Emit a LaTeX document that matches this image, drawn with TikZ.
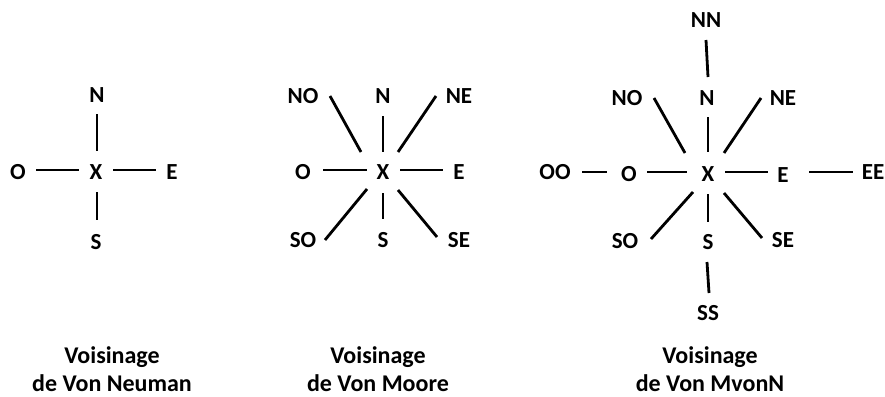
\documentclass[tikz,border=0pt]{standalone}
\usepackage{fontspec}
\setmainfont{Carlito}
\begin{document}
\begin{tikzpicture}[x=1pt,y=-1pt,
  lbl/.style={font=\fontsize{23}{28}\selectfont\bfseries, inner sep=0pt, text height=14.8pt, text depth=0pt, anchor=center},
  captxt/.style={lbl, font=\fontsize{24}{29}\selectfont\bfseries, text height=15.4pt},
  link/.style={line width=2.8pt, black}]
\useasboundingbox[fill=white] (0,0) rectangle (885,396);
% ---- Von Neuman
\node[lbl] (N1) at (97,95) {N};
\node[lbl] (O1) at (18,172) {O};
\node[lbl] (X1) at (96,172) {X};
\node[lbl] (E1) at (172,172) {E};
\node[lbl] (S1) at (96,242) {S};
\coordinate (a1) at (97,114); \coordinate (a2) at (97,151);
\coordinate (b1) at (36,170);  \coordinate (b2) at (79,170);
\coordinate (c1) at (113,170); \coordinate (c2) at (156,170);
\coordinate (d1) at (97,192);  \coordinate (d2) at (97,220);
\draw[link] (a1) -- (a2);
\draw[link] (b1) -- (b2);
\draw[link] (c1) -- (c2);
\draw[link] (d1) -- (d2);
\node[captxt] (V1) at (112,356) {Voisinage};
\node[captxt] (D1) at (112,384) {de Von Neuman};
% ---- Von Moore
\node[lbl] (NO2) at (303,96) {NO};
\node[lbl] (N2) at (383,96) {N};
\node[lbl] (NE2) at (459,96) {NE};
\node[lbl] (O2) at (303,172) {O};
\node[lbl] (X2) at (383,172) {X};
\node[lbl] (E2) at (459,172) {E};
\node[lbl] (SO2) at (303,240) {SO};
\node[lbl] (S2) at (383,240) {S};
\node[lbl] (SE2) at (459,240) {SE};
\coordinate (m1a) at (330,96);  \coordinate (m1b) at (361,152);
\coordinate (m2a) at (383,116); \coordinate (m2b) at (383,152);
\coordinate (m3a) at (436,96);  \coordinate (m3b) at (398,152);
\coordinate (m4a) at (323,170); \coordinate (m4b) at (367,170);
\coordinate (m5a) at (400,170); \coordinate (m5b) at (443,170);
\coordinate (m6a) at (367,189); \coordinate (m6b) at (325,240);
\coordinate (m7a) at (383,193); \coordinate (m7b) at (383,219);
\coordinate (m8a) at (398,190); \coordinate (m8b) at (437,237);
\foreach \i in {1,...,8} {\draw[link] (m\i a) -- (m\i b);}
\node[captxt] (V2) at (378,356) {Voisinage};
\node[captxt] (D2) at (378,384) {de Von Moore};
% ---- Von MvonN
\node[lbl] (NN) at (706,20) {NN};
\node[lbl] (NO3) at (627,98) {NO};
\node[lbl] (N3) at (707,98) {N};
\node[lbl] (NE3) at (783,98) {NE};
\node[lbl] (OO) at (555,172) {OO};
\node[lbl] (O3) at (629,174) {O};
\node[lbl] (X3) at (708,174) {X};
\node[lbl] (E3) at (783,175) {E};
\node[lbl] (EE) at (873,172) {EE};
\node[lbl] (SO3) at (625,241) {SO};
\node[lbl] (S3) at (708,242) {S};
\node[lbl] (SE3) at (783,240) {SE};
\node[lbl] (SS) at (708,313) {SS};
\coordinate (r1a) at (706,40);  \coordinate (r1b) at (708,77);
\coordinate (r2a) at (654,98);  \coordinate (r2b) at (685,153);
\coordinate (r3a) at (708,117); \coordinate (r3b) at (708,152);
\coordinate (r4a) at (761,98);  \coordinate (r4b) at (724,153);
\coordinate (r5a) at (582,172); \coordinate (r5b) at (607,172);
\coordinate (r6a) at (647,172); \coordinate (r6b) at (687,172);
\coordinate (r7a) at (725,172); \coordinate (r7b) at (768,172);
\coordinate (r8a) at (809,172); \coordinate (r8b) at (853,172);
\coordinate (r9a) at (693,192); \coordinate (r9b) at (651,239);
\coordinate (r10a) at (708,194); \coordinate (r10b) at (708,222);
\coordinate (r11a) at (724,193); \coordinate (r11b) at (762,238);
\coordinate (r12a) at (707,262); \coordinate (r12b) at (709,293);
\foreach \i in {1,...,12} {\draw[link] (r\i a) -- (r\i b);}
\node[captxt] (V3) at (710,356) {Voisinage};
\node[captxt] (D3) at (710,384) {de Von MvonN};
\end{tikzpicture}
\end{document}
